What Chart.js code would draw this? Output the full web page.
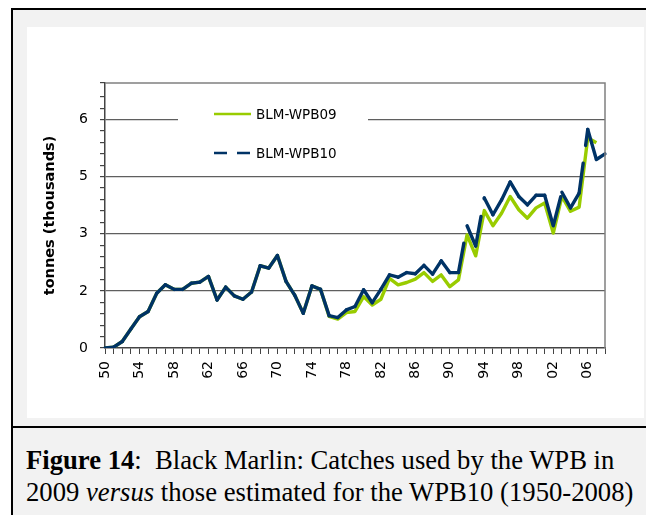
<!DOCTYPE html>
<html lang="en">
<head>
  <meta charset="UTF-8" />
  <title>Black Marlin: catches WPB09 vs WPB10</title>
  <script src="https://cdn.jsdelivr.net/npm/chart.js"></script>
  <style>
    body {
      margin: 0;
      background: #fff;
      width: 646px;
      height: 515px;
      overflow: hidden;
      position: relative;
    }

    #frame {
      position: absolute;
      left: 11px;
      top: 8px;
      width: 700px;
      height: 600px;
      border-left: 2px solid #000;
      border-top: 2px solid #000;
      background: #f2f2f2;
    }

    #panel {
      position: absolute;
      left: 27px;
      top: 27px;
      width: 617px;
      height: 391px;
      background: #fff;
    }

    #sep {
      position: absolute;
      left: 11px;
      top: 426px;
      width: 640px;
      height: 2px;
      background: #000;
    }

    #caption {
      position: absolute;
      left: 26px;
      top: 444px;
      font-family: 'Liberation Serif', 'Times New Roman', serif;
      font-size: 26.67px;
      line-height: 32px;
      color: #000;
      white-space: nowrap;
    }
  </style>
</head>
<body>
  <div id="frame"></div>
  <div id="panel">
    <canvas id="catchChart" width="617" height="391"></canvas>
  </div>
  <div id="sep"></div>
  <div id="caption"><b>Figure 14</b>:&nbsp; Black Marlin: Catches used by the WPB in<br>2009 <i>versus</i> those estimated for the WPB10 (1950-2008)</div>

  <script>
    // Years on the x axis
    const years = [
      '1950','1951','1952','1953','1954','1955','1956','1957','1958','1959',
      '1960','1961','1962','1963','1964','1965','1966','1967','1968','1969',
      '1970','1971','1972','1973','1974','1975','1976','1977','1978','1979',
      '1980','1981','1982','1983','1984','1985','1986','1987','1988','1989',
      '1990','1991','1992','1993','1994','1995','1996','1997','1998','1999',
      '2000','2001','2002','2003','2004','2005','2006','2007','2008'
    ];

    // Catches, thousands of tonnes
    const wpb09 = [
      0.00, 0.02, 0.17, 0.50, 0.82, 0.96, 1.44, 1.66, 1.54, 1.54,
      1.70, 1.73, 1.88, 1.26, 1.60, 1.37, 1.28, 1.47, 2.16, 2.10,
      2.43, 1.75, 1.39, 0.91, 1.63, 1.54, 0.83, 0.76, 0.93, 0.96,
      1.35, 1.13, 1.28, 1.83, 1.66, 1.72, 1.81, 1.98, 1.75, 1.92,
      1.61, 1.79, 2.97, 2.42, 3.61, 3.21, 3.54, 3.98, 3.63, 3.41,
      3.68, 3.81, 3.02, 3.98, 3.59, 3.70, 5.52, 5.39, null
    ];

    const wpb10 = [
      0.00, 0.02, 0.17, 0.50, 0.82, 0.96, 1.44, 1.66, 1.54, 1.54,
      1.70, 1.73, 1.88, 1.26, 1.60, 1.37, 1.28, 1.47, 2.16, 2.10,
      2.43, 1.75, 1.39, 0.91, 1.63, 1.54, 0.85, 0.80, 1.00, 1.09,
      1.53, 1.19, 1.54, 1.92, 1.86, 1.98, 1.95, 2.17, 1.94, 2.29,
      1.98, 1.98, 3.21, 2.68, 3.94, 3.50, 3.89, 4.36, 3.98, 3.76,
      4.01, 4.01, 3.21, 4.09, 3.68, 4.07, 5.74, 4.95, 5.10
    ];

    // y axis: gridlines every 1.5, small ticks every 0.3, labels rounded
    const yMajorStep = 1.5;
    const yMinorStep = 0.3;
    const yMax = 6.96;

    const GREEN = '#99cc00';
    const NAVY = '#003366';
    const GRID = '#5f5f5f';

    function isMajor(v) {
      return Math.round(v * 10) % Math.round(yMajorStep * 10) === 0;
    }

    // legend drawn inside the plot, on a white box, plus the grey frame top/right
    const plotExtras = {
      id: 'plotExtras',
      afterDatasetsDraw(chart) {
        const ctx = chart.ctx;
        const a = chart.chartArea;
        ctx.save();
        ctx.strokeStyle = '#808080';
        ctx.lineWidth = 1.5;
        ctx.beginPath();
        ctx.moveTo(a.left, a.top);
        ctx.lineTo(a.right, a.top);
        ctx.lineTo(a.right, a.bottom);
        ctx.stroke();

        ctx.fillStyle = '#fff';
        ctx.fillRect(151, 70, 190, 73);

        const items = chart.data.datasets;
        const rows = [87, 126];
        ctx.font = '13.5px "DejaVu Sans"';
        ctx.textBaseline = 'middle';
        items.forEach((ds, i) => {
          ctx.strokeStyle = ds.borderColor;
          ctx.lineWidth = 2.5;
          ctx.setLineDash(ds.legendDash);
          ctx.beginPath();
          ctx.moveTo(187, rows[i]);
          ctx.lineTo(224, rows[i]);
          ctx.stroke();
          ctx.setLineDash([]);
          ctx.fillStyle = '#000';
          ctx.fillText(ds.label, 229, rows[i] + 1);
        });
        ctx.restore();
      }
    };

    new Chart(document.getElementById('catchChart'), {
      type: 'line',
      data: {
        labels: years,
        datasets: [
          {
            label: 'BLM-WPB09',
            data: wpb09,
            borderColor: GREEN,
            borderWidth: 3.4,
            pointRadius: 0,
            tension: 0,
            borderJoinStyle: 'round',
            legendDash: [],
            order: 1
          },
          {
            label: 'BLM-WPB10',
            data: wpb10,
            borderColor: NAVY,
            borderWidth: 3.4,
            pointRadius: 0,
            tension: 0,
            borderCapStyle: 'round',
            borderJoinStyle: 'round',
            legendDash: [13, 10],
            // long dash restarts on every segment, so only the long steep segments show a gap
            segment: {
              borderDash: c => (c.p0DataIndex % 2 ? [30, 18] : [30, 18.0001])
            },
            order: 0
          }
        ]
      },
      options: {
        responsive: false,
        animation: false,
        layout: { padding: { top: 56, right: 39, left: 0, bottom: 0 } },
        plugins: {
          legend: { display: false },
          tooltip: { enabled: false }
        },
        scales: {
          x: {
            type: 'category',
            offset: false,
            afterFit: s => { s.height = 70; },
            grid: {
              drawOnChartArea: false,
              tickLength: 6,
              tickColor: '#444',
              lineWidth: 1
            },
            border: { color: '#444', width: 1.5 },
            ticks: {
              autoSkip: false,
              maxRotation: 90,
              minRotation: 90,
              padding: 7,
              color: '#000',
              font: { family: 'DejaVu Sans', size: 14 },
              callback: (v, i) => (i % 4 === 0 ? years[i].slice(2) : '')
            }
          },
          y: {
            min: 0,
            max: yMax,
            afterFit: s => { s.width = 78; },
            grid: {
              color: c => (c.tick && isMajor(c.tick.value) && c.tick.value > 0 ? GRID : 'rgba(0,0,0,0)'),
              lineWidth: 1.2,
              tickLength: 5,
              tickColor: '#444'
            },
            border: { color: '#444', width: 1.5 },
            ticks: {
              stepSize: yMinorStep,
              autoSkip: false,
              padding: 12,
              color: '#000',
              font: { family: 'DejaVu Sans', size: 14 },
              callback: v => (isMajor(v) ? Math.round(v) : '')
            },
            title: {
              display: true,
              text: 'tonnes (thousands)',
              color: '#000',
              font: { family: 'DejaVu Sans', size: 14.5, weight: 'bold' },
              padding: { top: 15, bottom: 0 }
            }
          }
        }
      },
      plugins: [plotExtras]
    });
  </script>
</body>
</html>
